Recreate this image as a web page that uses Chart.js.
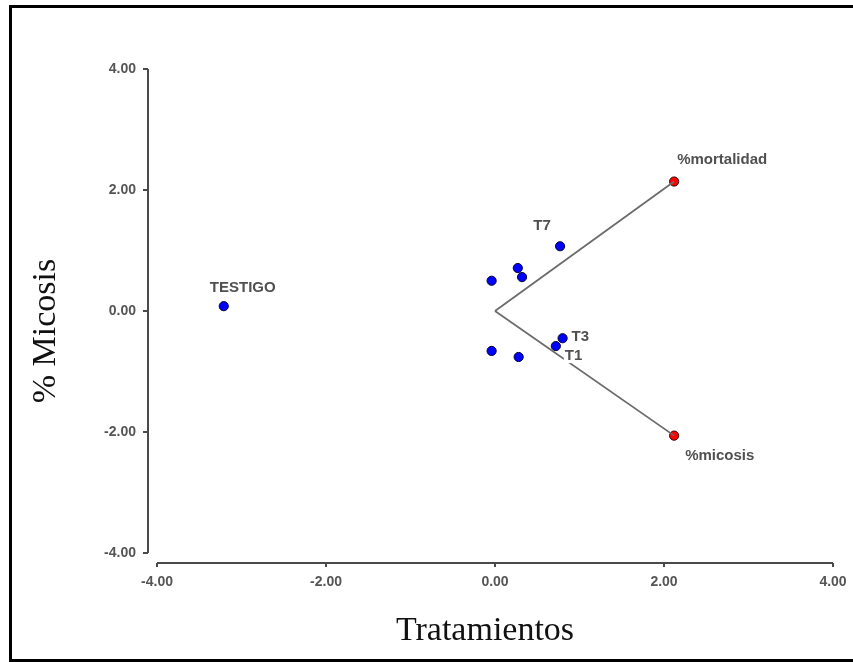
<!DOCTYPE html>
<html>
<head>
<meta charset="utf-8">
<title>Biplot tratamientos</title>
<script src="https://cdn.jsdelivr.net/npm/chart.js@4.4.1/dist/chart.umd.min.js"></script>
<style>
  html, body { margin: 0; padding: 0; background: #fff; overflow: hidden; }
  #wrap { position: relative; width: 853px; height: 662px; }
  #frame {
    position: absolute; left: 9px; top: 5px; right: -10px; bottom: 0;
    border: 3px solid #000; pointer-events: none;
  }
</style>
</head>
<body>
<div id="wrap">
  <canvas id="biplot" width="853" height="662"></canvas>
  <div id="frame"></div>
</div>
<script>
// tratamientos (puntos azules)
const tratNames = ['TESTIGO', 'T7', '', '', '', '', '', 'T3', 'T1'];
const tratX = [-3.21, 0.77, 0.27, 0.32, -0.04, -0.04, 0.28, 0.80, 0.72];
const tratY = [0.08, 1.07, 0.71, 0.56, 0.50, -0.66, -0.76, -0.45, -0.58];

// variables (puntos rojos, con vector desde el origen)
const varNames = ['%mortalidad', '%micosis'];
const varX = [2.12, 2.12];
const varY = [2.14, -2.06];

const axisTicks = [-4, -2, 0, 2, 4];
const xTitle = 'Tratamientos';
const yTitle = '% Micosis';

// desplazamiento de cada etiqueta respecto a su punto (px) y alineación
const labelPlace = {
  'TESTIGO': { dx: 19, dy: -18, align: 'center' },
  'T7': { dx: -18, dy: -20, align: 'center' },
  'T3': { dx: 9, dy: -1, align: 'left' },
  'T1': { dx: 9, dy: 10, align: 'left' },
  '%mortalidad': { dx: 3, dy: -22, align: 'left' },
  '%micosis': { dx: 11, dy: 20, align: 'left' },
};

const xy = (xs, ys) => xs.map((x, i) => ({ x, y: ys[i] }));

const datasets = varX.map((x, i) => ({
  type: 'scatter',
  data: [{ x: 0, y: 0 }, { x, y: varY[i] }],
  showLine: true,
  borderColor: '#6b6b6b',
  borderWidth: 1.8,
  pointRadius: 0,
  names: [],
}));
datasets.push({
  type: 'scatter',
  data: xy(tratX, tratY),
  backgroundColor: '#0000ff',
  borderColor: '#000033',
  borderWidth: 1,
  pointRadius: 4.6,
  names: tratNames,
});
datasets.push({
  type: 'scatter',
  data: xy(varX, varY),
  backgroundColor: '#ff0000',
  borderColor: '#330000',
  borderWidth: 1,
  pointRadius: 4.6,
  names: varNames,
});

// ejes separados del área de datos, al estilo InfoStat
const detachedAxes = {
  id: 'detachedAxes',
  afterDraw(chart) {
    const { ctx, chartArea: a, scales: { x, y } } = chart;
    ctx.save();
    ctx.strokeStyle = '#4a4a4a';
    ctx.lineWidth = 2;
    const yx = a.left - 9;
    ctx.beginPath();
    ctx.moveTo(yx, a.top);
    ctx.lineTo(yx, a.bottom);
    axisTicks.forEach(v => {
      const p = y.getPixelForValue(v);
      ctx.moveTo(yx, p);
      ctx.lineTo(yx - 5, p);
    });
    const xy0 = a.bottom + 10;
    ctx.moveTo(a.left, xy0);
    ctx.lineTo(a.right, xy0);
    axisTicks.forEach(v => {
      const p = x.getPixelForValue(v);
      ctx.moveTo(p, xy0);
      ctx.lineTo(p, xy0 + 4);
    });
    ctx.stroke();

    // títulos de los ejes
    ctx.fillStyle = '#111';
    ctx.font = '34px "Liberation Serif", "Times New Roman", serif';
    ctx.textAlign = 'center';
    ctx.textBaseline = 'middle';
    ctx.fillText(xTitle, (a.left + a.right) / 2 - 10, 631);
    ctx.translate(46, (a.top + a.bottom) / 2 + 20);
    ctx.rotate(-Math.PI / 2);
    ctx.fillText(yTitle, 0, 0);
    ctx.restore();
  },
};

// nombres junto a los puntos, con fondo blanco
const pointNames = {
  id: 'pointNames',
  afterDatasetsDraw(chart) {
    const { ctx } = chart;
    ctx.save();
    ctx.font = 'bold 15px "Liberation Sans", Arial, sans-serif';
    ctx.textBaseline = 'middle';
    chart.data.datasets.forEach((ds, di) => {
      const meta = chart.getDatasetMeta(di);
      (ds.names || []).forEach((name, i) => {
        if (!name) return;
        const pt = meta.data[i];
        const pl = labelPlace[name];
        const w = ctx.measureText(name).width;
        const tx = pt.x + pl.dx;
        const ty = pt.y + pl.dy;
        const left = pl.align === 'center' ? tx - w / 2 : tx;
        ctx.fillStyle = '#fff';
        ctx.fillRect(left - 1, ty - 7, w + 2, 14);
        ctx.fillStyle = '#505050';
        ctx.textAlign = pl.align;
        ctx.fillText(name, tx, ty);
      });
    });
    ctx.restore();
  },
};

const tickFont = { family: '"Liberation Sans", Arial, sans-serif', size: 14, weight: 'bold' };
// las marcas de los ejes las dibuja detachedAxes; tickLength sólo separa las etiquetas
const hiddenGrid = { display: false, drawTicks: true, tickLength: 21 };

new Chart(document.getElementById('biplot'), {
  type: 'scatter',
  data: { datasets },
  plugins: [detachedAxes, pointNames],
  options: {
    responsive: false,
    animation: false,
    layout: { padding: { left: 0, right: 20, top: 69, bottom: 0 } },
    plugins: { legend: { display: false }, tooltip: { enabled: false } },
    scales: {
      x: {
        type: 'linear',
        min: -4, max: 4,
        grid: hiddenGrid,
        border: { display: false },
        afterBuildTicks: s => { s.ticks = axisTicks.map(v => ({ value: v })); },
        ticks: {
          padding: 0, color: '#555', font: tickFont,
          callback: v => v.toFixed(2),
        },
        afterFit: s => { s.height = 109; },
      },
      y: {
        type: 'linear',
        min: -4, max: 4,
        grid: hiddenGrid,
        border: { display: false },
        afterBuildTicks: s => { s.ticks = axisTicks.map(v => ({ value: v })); },
        ticks: {
          padding: 0, color: '#555', font: tickFont,
          callback: v => v.toFixed(2),
        },
        afterFit: s => { s.width = 157; },
      },
    },
  },
});
</script>
</body>
</html>
